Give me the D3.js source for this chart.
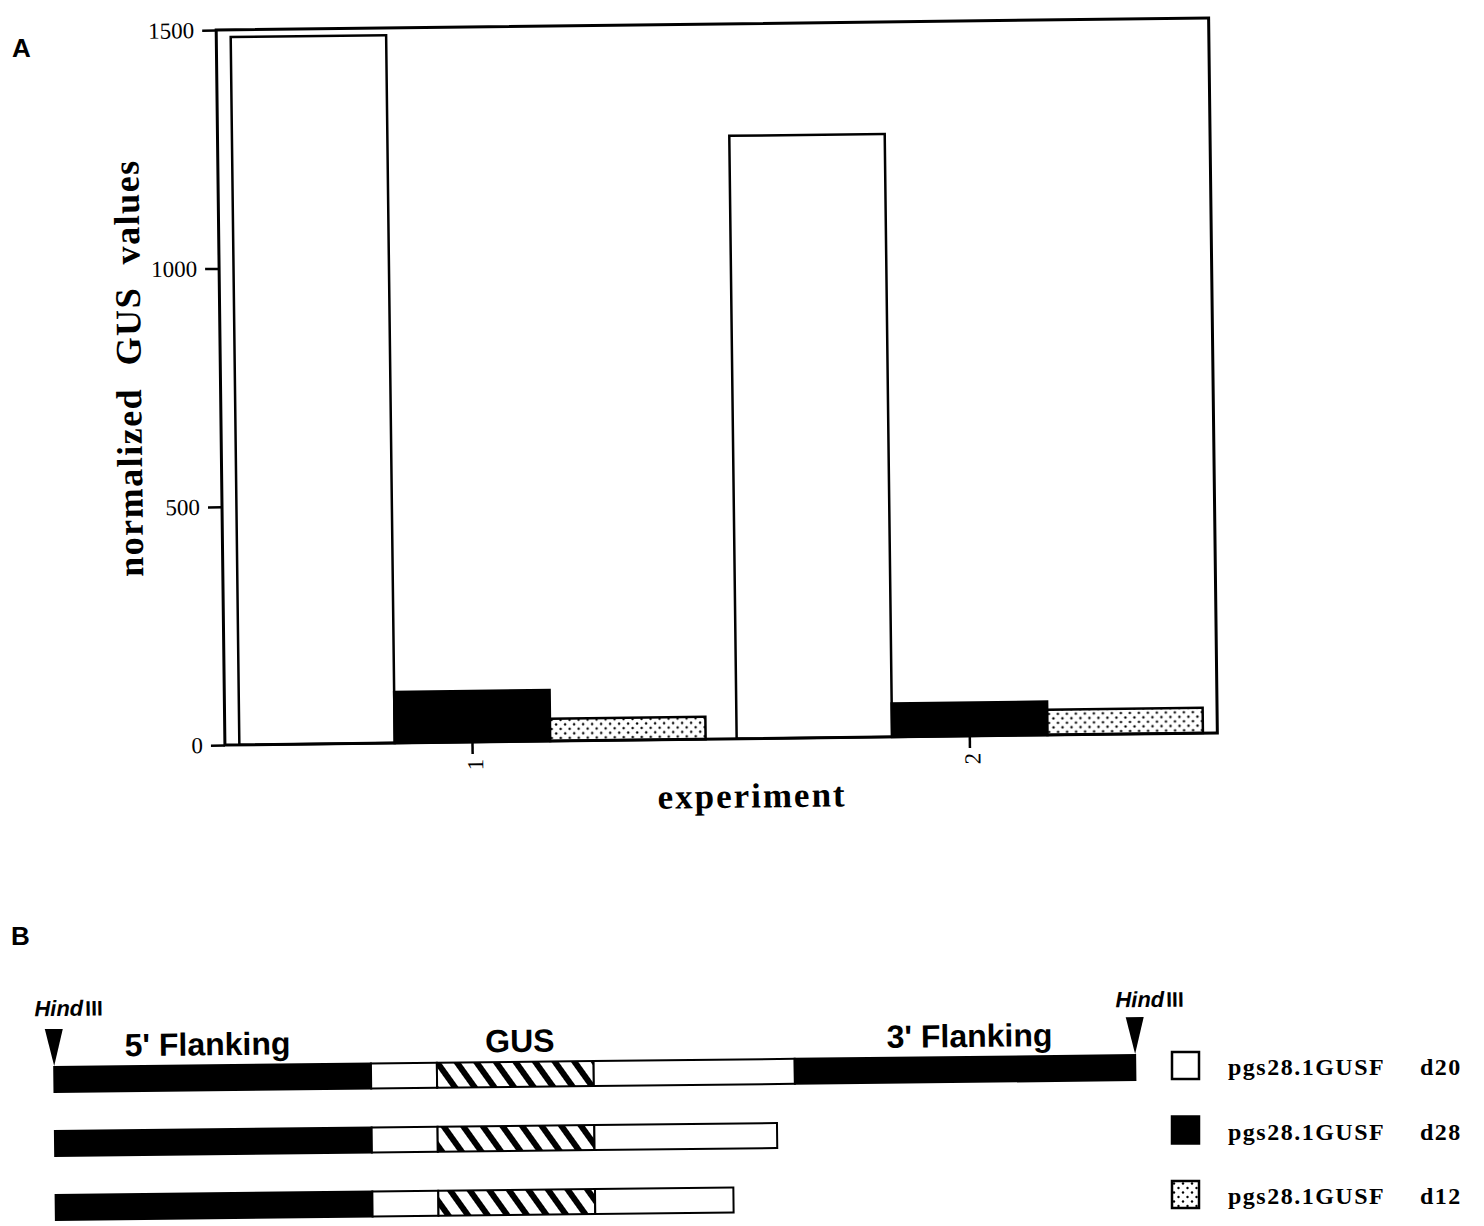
<!DOCTYPE html>
<html><head><meta charset="utf-8">
<script src="https://cdn.jsdelivr.net/npm/d3@7"></script>
<style>body{margin:0;background:#fff}</style>
</head><body>
<svg id="c" width="1484" height="1226"></svg>
<script>
// ---------- data ----------
const experiments = ["1", "2"];
const seriesNames = ["pgs28.1GUSF d20", "pgs28.1GUSF d28", "pgs28.1GUSF d12"];
const d20 = [1485, 1265];
const d28 = [107, 70];
const d12 = [47, 53];
const yTicks = [0, 500, 1000, 1500];

// panel B: constructs on a relative 0-100 length scale
const row1 = [[0, 29.3, "flank"], [29.3, 35.4, "spacer"], [35.4, 49.9, "gus"], [49.9, 68.5, "spacer"], [68.5, 100, "flank"]];
const row2 = [[0, 29.3, "flank"], [29.3, 35.4, "spacer"], [35.4, 49.9, "gus"], [49.9, 66.8, "spacer"]];
const row3 = [[0, 29.3, "flank"], [29.3, 35.4, "spacer"], [35.4, 49.9, "gus"], [49.9, 62.7, "spacer"]];
const regionLabels = [["5' Flanking", 14.2], ["GUS", 43.1], ["3' Flanking", 84.7]];
const hindSites = [0, 100];

// ---------- setup ----------
const svg = d3.select("#c");
const defs = svg.append("defs");
const dots = defs.append("pattern").attr("id", "dots").attr("patternUnits", "userSpaceOnUse")
  .attr("width", 9).attr("height", 9);
dots.append("rect").attr("width", 9).attr("height", 9).attr("fill", "#fff");
dots.append("circle").attr("cx", 2).attr("cy", 2.5).attr("r", 1.2).attr("fill", "#000");
dots.append("circle").attr("cx", 6.5).attr("cy", 7).attr("r", 1.2).attr("fill", "#000");

const hatch = defs.append("pattern").attr("id", "hatch").attr("patternUnits", "userSpaceOnUse")
  .attr("width", 16).attr("height", 16).attr("patternTransform", "rotate(-35)");
hatch.append("rect").attr("width", 16).attr("height", 16).attr("fill", "#fff");
hatch.append("rect").attr("width", 6).attr("height", 16).attr("fill", "#000");

const fills = ["#fff", "#000", "url(#dots)"];
const segFill = {flank: "#000", spacer: "#fff", gus: "url(#hatch)"};
const serif = "'Liberation Serif','Times New Roman',Times,serif";
const sans = "'Liberation Sans',Arial,Helvetica,sans-serif";

// ---------- panel labels ----------
svg.append("text").attr("x", 12).attr("y", 57).text("A")
  .attr("font-family", sans).attr("font-weight", "bold").attr("font-size", 26);
svg.append("text").attr("x", 11).attr("y", 945).text("B")
  .attr("font-family", sans).attr("font-weight", "bold").attr("font-size", 26);

// ---------- panel A ----------
const A = svg.append("g").attr("transform", "rotate(-0.7,716,380)");
const x0 = 220.5, x1 = 1213, yTop = 24, yBot = 739;
const y = d3.scaleLinear().domain([0, 1500]).range([yBot, yTop]);
const xg = d3.scaleBand().domain(experiments).range([x0, x1]).paddingInner(0.0624).paddingOuter(0.029);
const xs = d3.scaleBand().domain(seriesNames).range([0, xg.bandwidth()]);
const allSeries = [d20, d28, d12];

const groups = A.selectAll("g.grp").data(experiments).join("g").attr("class", "grp")
  .attr("transform", d => `translate(${xg(d)},0)`);
groups.selectAll("rect").data((d, i) => seriesNames.map((s, j) => ({s, j, v: allSeries[j][i]})))
  .join("rect")
  .attr("x", d => xs(d.s)).attr("width", xs.bandwidth())
  .attr("y", d => y(d.v)).attr("height", d => yBot - y(d.v))
  .attr("fill", d => fills[d.j]).attr("stroke", "#000").attr("stroke-width", 2.5);

A.append("rect").attr("x", x0).attr("y", yTop).attr("width", x1 - x0).attr("height", yBot - yTop)
  .attr("fill", "none").attr("stroke", "#000").attr("stroke-width", 3);

const ya = A.append("g").attr("transform", `translate(${x0},0)`)
  .call(d3.axisLeft(y).tickValues(yTicks).tickFormat(d3.format("d")).tickSize(14).tickPadding(8));
ya.select(".domain").remove();
ya.selectAll("line").attr("stroke-width", 2.5);
ya.selectAll("text").attr("font-family", serif).attr("font-size", 23).attr("fill", "#000");

const xa = A.append("g").attr("transform", `translate(0,${yBot})`)
  .call(d3.axisBottom(xg).tickSize(12));
xa.select(".domain").remove();
xa.selectAll("line").attr("stroke-width", 2.5);
xa.selectAll("text").attr("transform", "rotate(-90)").attr("x", -17).attr("y", 0)
  .attr("dy", "0.45em").attr("text-anchor", "end")
  .attr("font-family", serif).attr("font-size", 23).attr("fill", "#000");

A.append("text").attr("x", 747).attr("y", 808).attr("text-anchor", "middle")
  .attr("font-family", serif).attr("font-weight", "bold").attr("font-size", 35)
  .attr("letter-spacing", 2).text("experiment");
A.append("text").attr("transform", "translate(141,361) rotate(-90)").attr("text-anchor", "middle")
  .attr("font-family", serif).attr("font-weight", "bold").attr("font-size", 36)
  .attr("letter-spacing", 1.5).attr("word-spacing", 12).text("normalized GUS values");

// ---------- panel B ----------
const B = svg.append("g").attr("transform", "rotate(-0.63,55,1140)");
const xb = d3.scaleLinear().domain([0, 100]).range([55, 1136]);
const rows = [row1, row2, row3];
const ry = d3.scaleBand().domain(d3.range(rows.length)).range([1067, 1220]).paddingInner(0.61).paddingOuter(0);

rows.forEach((row, i) => {
  B.append("g").selectAll("rect").data(row).join("rect")
    .attr("x", d => xb(d[0])).attr("width", d => xb(d[1]) - xb(d[0]))
    .attr("y", ry(i)).attr("height", ry.bandwidth())
    .attr("fill", d => segFill[d[2]]).attr("stroke", "#000").attr("stroke-width", 2);
});

B.selectAll("text.reg").data(regionLabels).join("text").attr("class", "reg")
  .attr("x", d => xb(d[1])).attr("y", 1057).attr("text-anchor", "middle")
  .attr("font-family", sans).attr("font-weight", "bold").attr("font-size", 32).text(d => d[0]);

const site = B.selectAll("g.site").data(hindSites).join("g").attr("class", "site");
site.append("path")
  .attr("d", d => `M${xb(d) - 9},1029 L${xb(d) + 9},1029 L${xb(d)},${ry(0) - 1} Z`)
  .attr("fill", "#000");
const st = site.append("text").attr("x", d => xb(d) + 15).attr("y", (d, i) => i === 0 ? 1016 : 1019)
  .attr("text-anchor", "middle").attr("font-family", sans).attr("font-weight", "bold").attr("font-size", 22);
st.append("tspan").attr("font-style", "italic").text("Hind");
st.append("tspan").attr("font-size", 21).attr("dx", 2).text("III");

// ---------- legend ----------
const legY = d3.scaleLinear().domain([0, 2]).range([1052, 1181]);
const leg = svg.selectAll("g.leg").data(seriesNames).join("g").attr("class", "leg")
  .attr("transform", (d, i) => `translate(1172,${legY(i)})`);
leg.append("rect").attr("width", 27).attr("height", 27)
  .attr("fill", (d, i) => fills[i]).attr("stroke", "#000").attr("stroke-width", 2.5);
leg.append("text").attr("x", 56).attr("y", 23)
  .attr("font-family", serif).attr("font-weight", "bold").attr("font-size", 24).attr("letter-spacing", 1.5)
  .text(d => d.split(" ")[0]);
leg.append("text").attr("x", 248).attr("y", 23)
  .attr("font-family", serif).attr("font-weight", "bold").attr("font-size", 24).attr("letter-spacing", 1.5)
  .text(d => d.split(" ")[1]);
</script>
</body></html>
